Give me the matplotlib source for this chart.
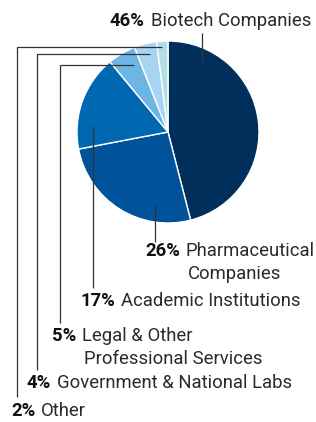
import matplotlib
matplotlib.use("Agg")
import matplotlib.pyplot as plt

plt.rcParams['font.family'] = ['Roboto', 'DejaVu Sans']
plt.rcParams['font.size'] = 12

# data
labels = ["Biotech Companies", "Pharmaceutical\nCompanies", "Academic Institutions",
          "Legal & Other\nProfessional Services", "Government & National Labs", "Other"]
shares = [46, 26, 17, 5, 4, 2]
colors = ["#002f5c", "#00539a", "#0068b0", "#6db5e5", "#a7d4f2", "#b3dfe3"]

W, H = 316, 422
fig = plt.figure(figsize=(W / 100, H / 100), dpi=100)
ax = fig.add_axes([0, 0, 1, 1])

def Y(y):
    return H - y

ax.pie(shares, colors=colors, startangle=90, counterclock=False,
       center=(168, Y(132)), radius=91, frame=True,
       wedgeprops=dict(edgecolor="white", linewidth=1.0))
ax.set_xlim(0, W)
ax.set_ylim(0, H)
ax.axis("off")

# leader lines (pixel layout, y from top)
leaders = [
    [(202, 33), (202, 66)],
    [(155, 203), (155, 242)],
    [(93, 126), (93, 288)],
    [(134, 65), (60, 65), (60, 323)],
    [(150, 54), (37, 54), (37, 370)],
    [(162, 47), (17, 47), (17, 397)],
]
for pts in leaders:
    ax.plot([p[0] for p in pts], [Y(p[1]) for p in pts], color="#333333",
            lw=0.9, solid_capstyle="butt", solid_joinstyle="miter")

# label anchors: x of percent start, y of first line centre
anchors = [(110, 21), (145, 251), (80, 301), (52, 336), (27, 383), (11, 411)]
line_gap = 23
fs = 13.3

fig.canvas.draw()
r = fig.canvas.get_renderer()
inv = ax.transData.inverted()
for (x, y), s, lab in zip(anchors, shares, labels):
    t = ax.text(x, Y(y), f"{s}%", fontweight="bold", fontsize=fs,
                color="#111111", ha="left", va="center")
    bb = t.get_window_extent(r)
    x1 = inv.transform((bb.x1, bb.y0))[0] + 6
    for i, line in enumerate(lab.split("\n")):
        ax.text(x1 + (2 if i else 0), Y(y + i * line_gap), line, fontweight="normal",
                fontsize=fs, color="#2a2a2a", ha="left", va="center")

fig.savefig("out.png", dpi=100)
